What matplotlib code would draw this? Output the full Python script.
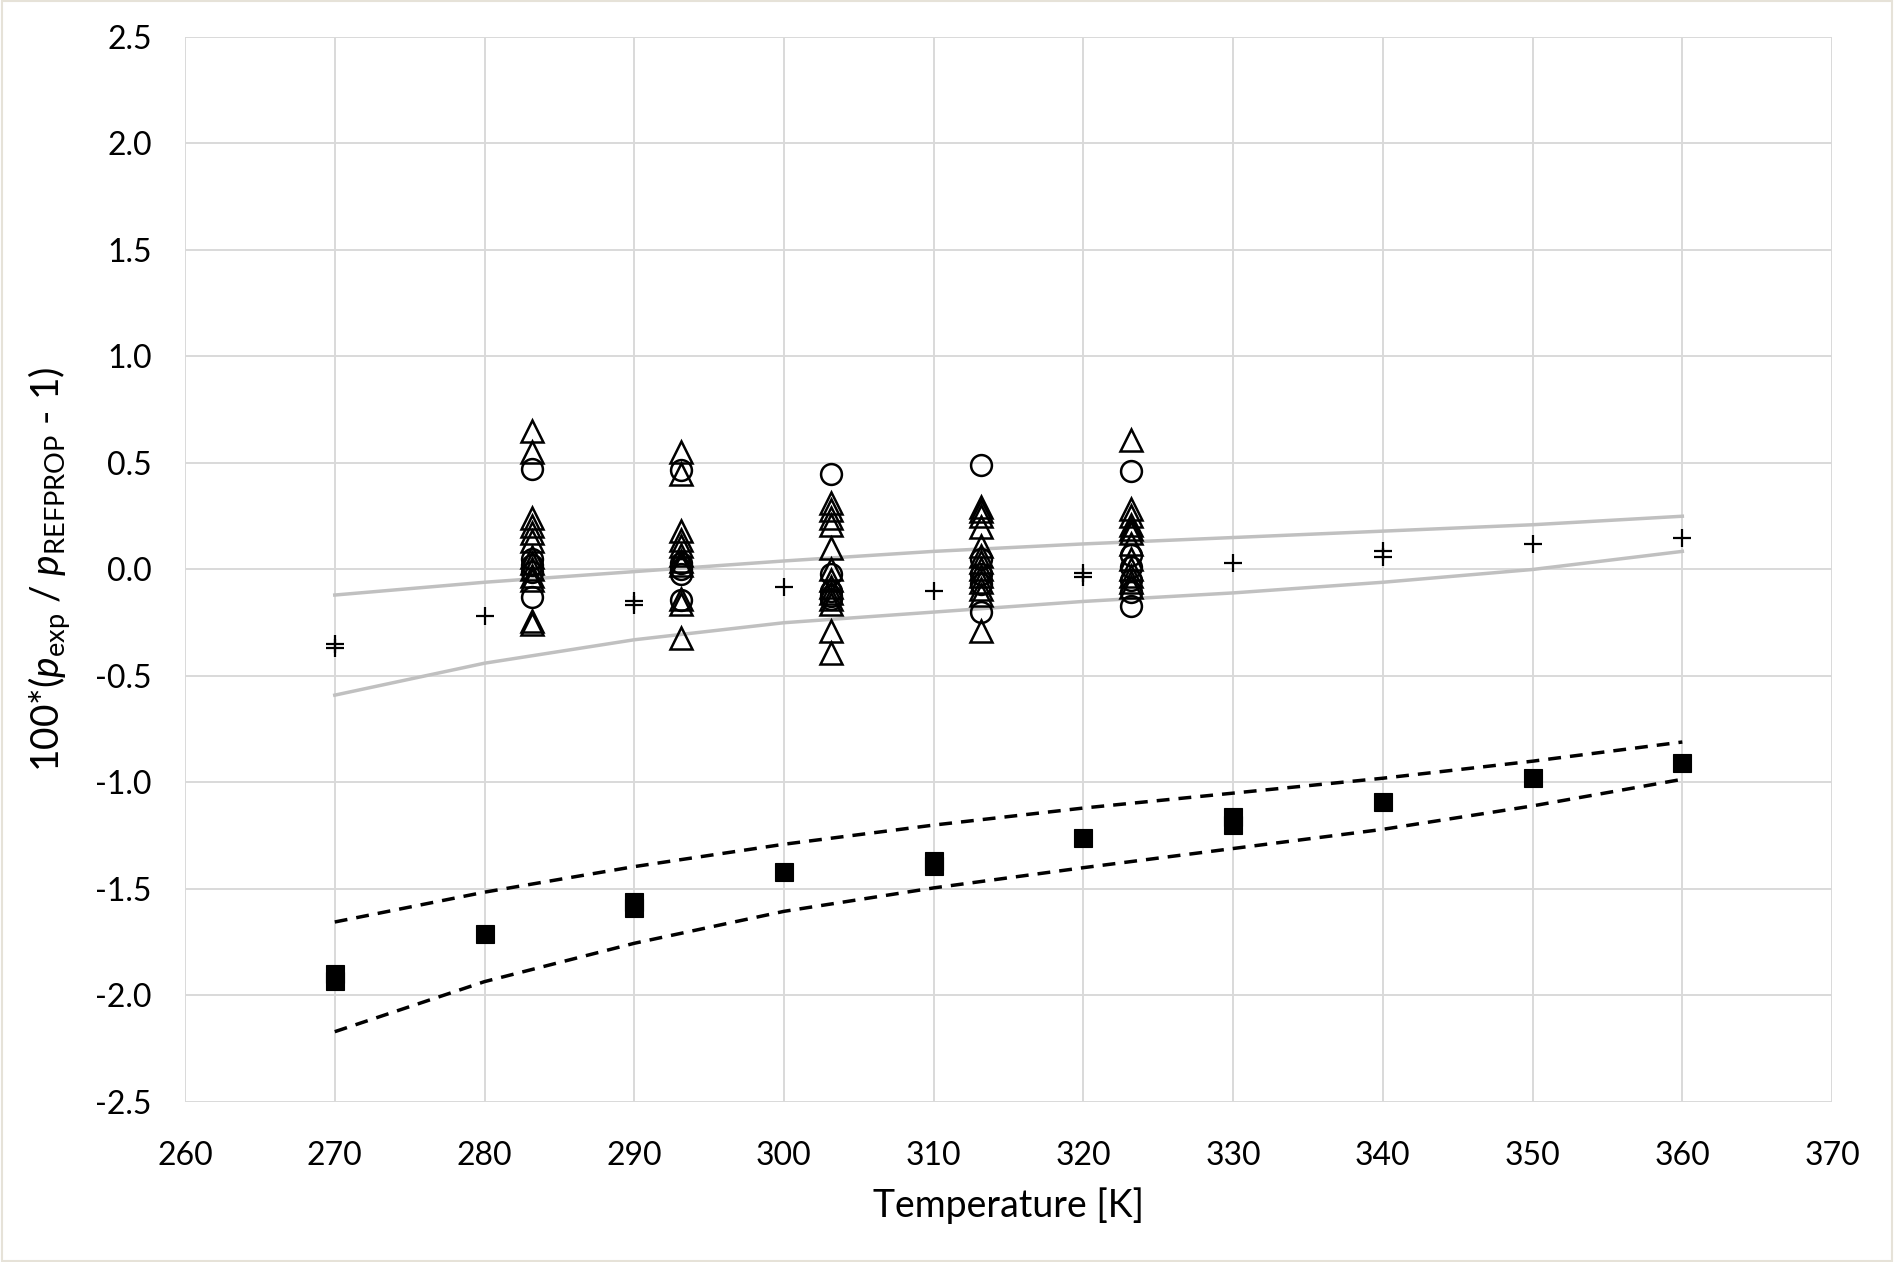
import numpy as np
import matplotlib
matplotlib.use("Agg")
import matplotlib.pyplot as plt
from matplotlib.patches import Rectangle

plt.rcParams['font.family'] = ['Lato', 'DejaVu Sans']
plt.rcParams['mathtext.fontset'] = 'custom'
plt.rcParams['mathtext.rm'] = 'Lato'
plt.rcParams['mathtext.it'] = 'Lato:italic'

# reference curves (10 K steps)
T_line = [270, 280, 290, 300, 310, 320, 330, 340, 350, 360]
grey_upper = [-0.12, -0.06, -0.01, 0.04, 0.085, 0.12, 0.15, 0.18, 0.21, 0.25]
grey_lower = [-0.59, -0.44, -0.33, -0.25, -0.20, -0.15, -0.11, -0.06, 0.0, 0.085]
dash_upper = [-1.655, -1.515, -1.395, -1.29, -1.20, -1.12, -1.05, -0.98, -0.90, -0.81]
dash_lower = [-2.17, -1.935, -1.755, -1.605, -1.495, -1.40, -1.31, -1.22, -1.11, -0.985]

# plus markers
T_plus = [270, 270, 280, 290, 290, 300, 310, 320, 320, 330, 340, 340, 350, 360]
dev_plus = [-0.35, -0.37, -0.22, -0.15, -0.165, -0.08, -0.10, -0.015, -0.035,
            0.03, 0.085, 0.06, 0.12, 0.15]

# filled squares
T_sq = [270, 270, 280, 290, 290, 300, 310, 310, 320, 330, 330, 340, 350, 360]
dev_sq = [-1.90, -1.93, -1.71, -1.56, -1.59, -1.42, -1.37, -1.39, -1.26,
          -1.16, -1.20, -1.09, -0.98, -0.91]

# isotherm data: triangles and circles
tri_283 = [0.65, 0.55, 0.24, 0.205, 0.17, 0.135, 0.06, 0.03, 0.0, -0.03, -0.05, -0.24, -0.255]
cir_283 = [0.47, 0.05, 0.02, -0.01, -0.13]
tri_293 = [0.55, 0.45, 0.18, 0.14, 0.11, 0.07, 0.04, 0.02, -0.14, -0.16, -0.32]
cir_293 = [0.465, 0.03, 0.0, -0.02, -0.145]
tri_303 = [0.31, 0.28, 0.24, 0.21, 0.10, 0.0, -0.05, -0.08, -0.11, -0.14, -0.16, -0.29, -0.39]
cir_303 = [0.45, -0.02, -0.10, -0.125, -0.14]
tri_313 = [0.295, 0.275, 0.25, 0.20, 0.11, 0.065, 0.035, 0.0, -0.03, -0.06, -0.09, -0.12, -0.29]
cir_313 = [0.49, 0.05, -0.02, -0.07, -0.20]
tri_323 = [0.61, 0.285, 0.25, 0.21, 0.19, 0.17, 0.12, 0.05, 0.0, -0.03, -0.06, -0.08]
cir_323 = [0.46, 0.07, 0.01, -0.05, -0.105, -0.17]

T_iso = [283.15, 293.15, 303.15, 313.15, 323.15]
tri_all = [tri_283, tri_293, tri_303, tri_313, tri_323]
cir_all = [cir_283, cir_293, cir_303, cir_313, cir_323]

fig = plt.figure(figsize=(18.94, 12.62), dpi=100)
ax = fig.add_axes([0.0977, 0.1268, 0.9673 - 0.0977, 0.9707 - 0.1268])

ax.plot(T_line, grey_upper, color='#c0c0c0', lw=2.5, zorder=2)
ax.plot(T_line, grey_lower, color='#c0c0c0', lw=2.5, zorder=2)
ax.plot(T_line, dash_upper, color='black', lw=2.5, ls=(0, (3.7, 2.6)), zorder=2)
ax.plot(T_line, dash_lower, color='black', lw=2.5, ls=(0, (3.7, 2.6)), zorder=2)

for t, tri, cir in zip(T_iso, tri_all, cir_all):
    ax.plot([t] * len(tri), tri, ls='none', marker='^', ms=15.5, mfc='none',
            mec='black', mew=1.8, zorder=3)
    ax.plot([t] * len(cir), cir, ls='none', marker='o', ms=15, mfc='none',
            mec='black', mew=1.8, zorder=3)

ax.plot(T_plus, dev_plus, ls='none', marker='+', ms=13, mec='black', mew=1.6, zorder=3)
ax.plot(T_sq, dev_sq, ls='none', marker='s', ms=13, mfc='black', mec='black',
        mew=0.8, zorder=3)

ax.set_xlim(260, 370)
ax.set_ylim(-2.5, 2.5)
ax.set_xticks(np.arange(260, 371, 10))
ax.set_yticks(np.arange(-2.5, 2.51, 0.5))
ax.set_yticklabels(['%.1f' % v for v in np.arange(-2.5, 2.51, 0.5)])
ax.grid(True, color='#d9d9d9', lw=1.4, zorder=0)
ax.set_axisbelow(True)
for s in ax.spines.values():
    s.set_visible(False)
ax.tick_params(length=0, labelsize=23, pad=24)
ax.tick_params(axis='x', pad=28)

ax.set_xlabel('Temperature [K]', fontsize=27, labelpad=12)
ax.set_ylabel(r'100*($p_{\mathrm{exp}}$ / $p_{\mathrm{REFPROP}}$ - 1)', fontsize=28, labelpad=16)

# thin outer frame of the chart
fig.patches.append(Rectangle((0.001, 0.001), 0.998, 0.998, transform=fig.transFigure,
                             fill=False, ec='#e6e2d8', lw=1.5))

fig.savefig('out.png', dpi=100, facecolor='white')
